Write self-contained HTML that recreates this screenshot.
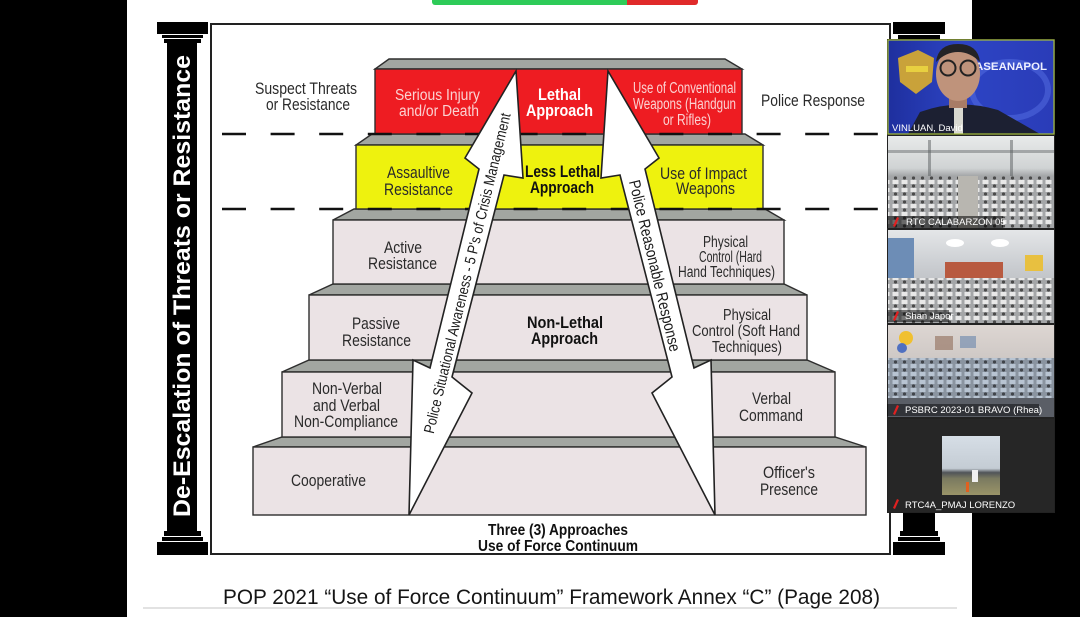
<!DOCTYPE html>
<html><head><meta charset="utf-8"><style>
html,body{margin:0;padding:0;background:#fff;}
body{width:1080px;height:617px;overflow:hidden;}
svg{display:block;}
.r{font-family:"Liberation Sans",Arial,sans-serif;font-size:17px;fill:#2a2a2a;}
.rs{font-family:"Liberation Sans",Arial,sans-serif;font-size:15.5px;fill:#2a2a2a;}
.rp{font-family:"Liberation Sans",Arial,sans-serif;font-size:15.5px;fill:#fbd2d2;}
.b{font-family:"Liberation Sans",Arial,sans-serif;font-size:17px;font-weight:bold;fill:#111;}
.bw{font-family:"Liberation Sans",Arial,sans-serif;font-size:17px;font-weight:bold;fill:#fff;}
.bb{font-family:"Liberation Sans",Arial,sans-serif;font-size:15.5px;font-weight:bold;fill:#111;}
.nm{font-family:"Liberation Sans",Arial,sans-serif;font-size:9.5px;fill:#fff;}
</style></head><body>
<svg width="1080" height="617" viewBox="0 0 1080 617" xmlns="http://www.w3.org/2000/svg">
<defs>
<clipPath id="c1"><rect x="888" y="40" width="166" height="94"/></clipPath>
<linearGradient id="g1" x1="0" y1="0" x2="1" y2="0">
<stop offset="0" stop-color="#1e2f9e"/><stop offset="0.45" stop-color="#2d44c4"/><stop offset="1" stop-color="#2a3cb8"/>
</linearGradient>
<linearGradient id="g2" x1="0" y1="0" x2="0" y2="1">
<stop offset="0" stop-color="#e8eaea"/><stop offset="0.35" stop-color="#d0d3d4"/><stop offset="0.45" stop-color="#9c9ea0"/><stop offset="1" stop-color="#8a8c90"/>
</linearGradient>
<linearGradient id="g3" x1="0" y1="0" x2="0" y2="1">
<stop offset="0" stop-color="#e4e6e8"/><stop offset="0.4" stop-color="#c9ccd0"/><stop offset="1" stop-color="#a8aaae"/>
</linearGradient>
<linearGradient id="g4" x1="0" y1="0" x2="0" y2="1">
<stop offset="0" stop-color="#ddd6d2"/><stop offset="0.35" stop-color="#cfc9c6"/><stop offset="0.5" stop-color="#8e98a6"/><stop offset="1" stop-color="#6e7682"/>
</linearGradient>
<linearGradient id="g5" x1="0" y1="0" x2="0" y2="1">
<stop offset="0" stop-color="#d6dee6"/><stop offset="0.55" stop-color="#c4ccd4"/><stop offset="0.62" stop-color="#505458"/><stop offset="0.72" stop-color="#7a7a60"/><stop offset="1" stop-color="#9a9468"/>
</linearGradient>
<pattern id="crowd" width="9" height="8" patternUnits="userSpaceOnUse">
<rect width="9" height="8" fill="#a4a6a8"/><circle cx="4.5" cy="2" r="1.6" fill="#4a4a4a"/><rect x="1.5" y="4" width="6" height="4" fill="#e8e8e8"/>
</pattern>
<pattern id="crowdb" width="9" height="8" patternUnits="userSpaceOnUse">
<rect width="9" height="8" fill="#8a94a0"/><circle cx="4.5" cy="2" r="1.6" fill="#40444a"/><rect x="1.5" y="4" width="6" height="4" fill="#b8c4d2"/>
</pattern>
</defs>

<rect width="1080" height="617" fill="#fff"/>
<rect x="0" y="0" width="127" height="617" fill="#000"/>
<rect x="972" y="0" width="108" height="617" fill="#000"/>

<!-- top toolbar -->
<rect x="432" y="-5" width="198" height="10" rx="3" fill="#2ecb58"/>
<rect x="627" y="-5" width="71" height="10" rx="3" fill="#e02a2a"/>
<rect x="627" y="-5" width="5" height="10" fill="#e02a2a"/>

<!-- bottom rule -->
<rect x="143" y="607" width="814" height="2" fill="#e2e2e2"/>

<!-- frame -->
<rect x="211" y="24" width="679" height="530" fill="#fff" stroke="#222" stroke-width="2"/>

<!-- left pillar -->
<g fill="#000">
<rect x="157" y="22" width="51" height="12"/>
<rect x="162" y="35" width="41" height="3"/>
<rect x="164" y="39" width="37" height="4"/>
<rect x="167" y="43" width="30" height="488"/>
<rect x="164" y="531" width="37" height="5"/>
<rect x="162" y="537" width="41" height="4"/>
<rect x="157" y="542" width="51" height="13"/>
</g>
<text transform="translate(190,517) rotate(-90)" x="0" y="0" textLength="462" lengthAdjust="spacingAndGlyphs" style="font-family:'Liberation Sans',Arial,sans-serif;font-size:24px;font-weight:bold;fill:#fff;">De-Escalation of Threats or Resistance</text>

<!-- right pillar -->
<g fill="#000">
<rect x="893" y="22" width="52" height="12"/>
<rect x="898" y="35" width="42" height="4"/>
<rect x="903" y="43" width="32" height="488"/>
<rect x="900" y="531" width="38" height="5"/>
<rect x="898" y="537" width="42" height="4"/>
<rect x="893" y="542" width="52" height="13"/>
</g>

<!-- steps -->
<g stroke="#2e2e2e" stroke-width="1.4" stroke-linejoin="miter">
<polygon points="282,437 835,437 866,447 253,447" fill="#a2a6a1"/>
<rect x="253" y="447" width="613" height="68" fill="#ebe3e5"/>
<polygon points="309,360 807,360 835,372 282,372" fill="#a2a6a1"/>
<rect x="282" y="372" width="553" height="65" fill="#ebe3e5"/>
<polygon points="333,284 784,284 807,295 309,295" fill="#a2a6a1"/>
<rect x="309" y="295" width="498" height="65" fill="#ebe3e5"/>
<polygon points="354,209 765,209 784,220 333,220" fill="#a2a6a1"/>
<rect x="333" y="220" width="451" height="64" fill="#ebe3e5"/>
<polygon points="372,134 745,134 763,145 356,145" fill="#a2a6a1"/>
<rect x="356" y="145" width="407" height="64" fill="#eef20e"/>
<polygon points="389,59 725,59 742,69 375,69" fill="#a2a6a1"/>
<rect x="375" y="69" width="367" height="65" fill="#ee1c22"/>
</g>

<!-- dashed lines -->
<line x1="222" y1="134" x2="880" y2="134" stroke="#111" stroke-width="2.6" stroke-dasharray="24 24.6"/>
<line x1="222" y1="209" x2="880" y2="209" stroke="#111" stroke-width="2.6" stroke-dasharray="24 24.6"/>

<!-- arrows -->
<polygon points="516,71 523,178 504,175 452,377 472,393 409,515 413,360 430,368 479,169 465,158" fill="#fff" stroke="#222" stroke-width="1.6" stroke-linejoin="miter"/>
<polygon points="608,71 601,178 620,175 672,377 652,393 715,515 711,360 694,368 645,169 659,158" fill="#fff" stroke="#222" stroke-width="1.6" stroke-linejoin="miter"/>

<text transform="translate(467.3,273.2) rotate(-76.45)" x="-164.5" y="5" textLength="329" lengthAdjust="spacingAndGlyphs" style="font-family:'Liberation Sans',Arial,sans-serif;font-size:15px;fill:#1a1a1a;">Police Situational Awareness - 5 P's of Crisis Management</text>
<text transform="translate(654.9,265.7) rotate(76.45)" x="-88" y="5.5" textLength="176" lengthAdjust="spacingAndGlyphs" style="font-family:'Liberation Sans',Arial,sans-serif;font-size:16px;fill:#1a1a1a;">Police Reasonable Response</text>

<!-- labels -->
<text class="r" x="255" y="94" textLength="102" lengthAdjust="spacingAndGlyphs">Suspect Threats</text>
<text class="r" x="266" y="110" textLength="84" lengthAdjust="spacingAndGlyphs">or Resistance</text>
<text class="r" x="761" y="106" textLength="104" lengthAdjust="spacingAndGlyphs">Police Response</text>

<text class="rp" x="395" y="100" textLength="85" lengthAdjust="spacingAndGlyphs">Serious Injury</text>
<text class="rp" x="399" y="116" textLength="80" lengthAdjust="spacingAndGlyphs">and/or Death</text>
<text class="rp" x="633" y="93" textLength="103" lengthAdjust="spacingAndGlyphs">Use of Conventional</text>
<text class="rp" x="633" y="109" textLength="103" lengthAdjust="spacingAndGlyphs">Weapons (Handgun</text>
<text class="rp" x="663" y="125" textLength="48" lengthAdjust="spacingAndGlyphs">or Rifles)</text>
<text class="bw" x="538" y="100" textLength="43" lengthAdjust="spacingAndGlyphs">Lethal</text>
<text class="bw" x="526" y="116" textLength="67" lengthAdjust="spacingAndGlyphs">Approach</text>

<text class="r" x="387" y="178" textLength="63" lengthAdjust="spacingAndGlyphs">Assaultive</text>
<text class="r" x="384" y="195" textLength="69" lengthAdjust="spacingAndGlyphs">Resistance</text>
<text class="b" x="525" y="177" textLength="75" lengthAdjust="spacingAndGlyphs">Less Lethal</text>
<text class="b" x="530" y="193" textLength="64" lengthAdjust="spacingAndGlyphs">Approach</text>
<text class="r" x="660" y="179" textLength="87" lengthAdjust="spacingAndGlyphs">Use of Impact</text>
<text class="r" x="676" y="194" textLength="59" lengthAdjust="spacingAndGlyphs">Weapons</text>

<text class="r" x="384" y="253" textLength="38" lengthAdjust="spacingAndGlyphs">Active</text>
<text class="r" x="368" y="269" textLength="69" lengthAdjust="spacingAndGlyphs">Resistance</text>
<text class="rs" x="703" y="247" textLength="45" lengthAdjust="spacingAndGlyphs">Physical</text>
<text class="rs" x="699" y="262" textLength="63" lengthAdjust="spacingAndGlyphs">Control (Hard</text>
<text class="rs" x="678" y="277" textLength="97" lengthAdjust="spacingAndGlyphs">Hand Techniques)</text>

<text class="r" x="352" y="329" textLength="48" lengthAdjust="spacingAndGlyphs">Passive</text>
<text class="r" x="342" y="346" textLength="69" lengthAdjust="spacingAndGlyphs">Resistance</text>
<text class="b" x="527" y="328" textLength="76" lengthAdjust="spacingAndGlyphs">Non-Lethal</text>
<text class="b" x="531" y="344" textLength="67" lengthAdjust="spacingAndGlyphs">Approach</text>
<text class="rs" x="723" y="320" textLength="48" lengthAdjust="spacingAndGlyphs">Physical</text>
<text class="rs" x="692" y="336" textLength="108" lengthAdjust="spacingAndGlyphs">Control (Soft Hand</text>
<text class="rs" x="712" y="352" textLength="70" lengthAdjust="spacingAndGlyphs">Techniques)</text>

<text class="r" x="312" y="394" textLength="70" lengthAdjust="spacingAndGlyphs">Non-Verbal</text>
<text class="r" x="313" y="411" textLength="67" lengthAdjust="spacingAndGlyphs">and Verbal</text>
<text class="r" x="294" y="427" textLength="104" lengthAdjust="spacingAndGlyphs">Non-Compliance</text>
<text class="r" x="752" y="404" textLength="39" lengthAdjust="spacingAndGlyphs">Verbal</text>
<text class="r" x="739" y="421" textLength="64" lengthAdjust="spacingAndGlyphs">Command</text>

<text class="r" x="291" y="486" textLength="75" lengthAdjust="spacingAndGlyphs">Cooperative</text>
<text class="r" x="763" y="478" textLength="52" lengthAdjust="spacingAndGlyphs">Officer's</text>
<text class="r" x="760" y="495" textLength="58" lengthAdjust="spacingAndGlyphs">Presence</text>

<text class="bb" x="488" y="535" textLength="140" lengthAdjust="spacingAndGlyphs">Three (3) Approaches</text>
<text class="bb" x="478" y="551" textLength="160" lengthAdjust="spacingAndGlyphs">Use of Force Continuum</text>

<text x="223" y="604" textLength="657" lengthAdjust="spacingAndGlyphs" style="font-family:'Liberation Sans',Arial,sans-serif;font-size:21px;fill:#151515;">POP 2021 “Use of Force Continuum” Framework Annex “C” (Page 208)</text>

<!-- video panel -->
<rect x="887" y="39" width="168" height="474" fill="#222"/>
<!-- tile 1 -->
<g clip-path="url(#c1)">
<rect x="888" y="40" width="166" height="94" fill="url(#g1)"/>
<ellipse cx="1010" cy="90" rx="38" ry="28" fill="none" stroke="#5570e4" stroke-width="6" opacity="0.5"/>
<path d="M898,58 L918,50 L934,58 L932,82 L916,94 L900,82 Z" fill="#c9a23a"/>
<rect x="906" y="66" width="22" height="6" fill="#e8d040"/>
<text x="975" y="70" textLength="72" lengthAdjust="spacingAndGlyphs" style="font-family:'Liberation Sans',Arial,sans-serif;font-size:11px;font-weight:bold;fill:#eef0ff;">ASEANAPOL</text>
<path d="M908,134 L920,112 Q958,98 998,110 L1040,134 Z" fill="#1c2032"/>
<rect x="949" y="94" width="18" height="14" fill="#a87c66"/>
<ellipse cx="958" cy="74" rx="22" ry="27" fill="#bf937b"/>
<path d="M936,62 Q938,44 958,44 Q978,44 980,62 Q970,52 958,52 Q946,52 936,62 Z" fill="#232326"/>
<circle cx="948" cy="68" r="7.5" fill="none" stroke="#222" stroke-width="2"/>
<circle cx="968" cy="68" r="7.5" fill="none" stroke="#222" stroke-width="2"/>
<rect x="954" y="108" width="9" height="26" fill="#d8d8d0"/>
<text class="nm" x="892" y="131">VINLUAN, David</text>
</g>
<rect x="888" y="40" width="166" height="94" fill="none" stroke="#a6bf3c" stroke-width="1.2"/>

<!-- tile 2 -->
<rect x="888" y="136" width="166" height="92" fill="url(#g2)"/>
<rect x="888" y="150" width="166" height="3" fill="#6a6e70" opacity="0.5"/>
<rect x="928" y="140" width="3" height="36" fill="#5a5e60" opacity="0.5"/>
<rect x="1010" y="140" width="3" height="36" fill="#5a5e60" opacity="0.5"/>
<rect x="888" y="176" width="70" height="52" fill="url(#crowd)"/>
<rect x="978" y="176" width="76" height="52" fill="url(#crowd)"/>
<rect x="958" y="176" width="20" height="52" fill="#b8b6b0"/>
<rect x="887" y="216" width="116" height="12" fill="#000" opacity="0.55"/>
<path d="M893,226 L897,217 L899,218 L895,227 Z" fill="#e02020"/>
<text class="nm" x="906" y="225">RTC CALABARZON 05</text>

<!-- tile 3 -->
<rect x="888" y="230" width="166" height="93" fill="url(#g3)"/>
<rect x="888" y="238" width="26" height="60" fill="#6d8db6"/>
<ellipse cx="955" cy="243" rx="9" ry="4" fill="#fff"/>
<ellipse cx="1000" cy="243" rx="9" ry="4" fill="#fff"/>
<rect x="945" y="262" width="58" height="16" fill="#b85a40"/>
<rect x="1025" y="255" width="18" height="16" fill="#e8c040"/>
<rect x="888" y="278" width="166" height="45" fill="url(#crowd)"/>
<rect x="887" y="310" width="62" height="12" fill="#000" opacity="0.5"/>
<path d="M893,320 L897,311 L899,312 L895,321 Z" fill="#e02020"/>
<text class="nm" x="905" y="319">Shan Japor</text>

<!-- tile 4 -->
<rect x="888" y="325" width="166" height="92" fill="url(#g4)"/>
<circle cx="906" cy="338" r="7" fill="#f0c030"/>
<circle cx="902" cy="348" r="5" fill="#5070c0"/>
<rect x="935" y="336" width="18" height="14" fill="#9a7a6a" opacity="0.7"/>
<rect x="960" y="336" width="16" height="12" fill="#7890b0" opacity="0.7"/>
<rect x="888" y="358" width="166" height="40" fill="url(#crowdb)"/>
<rect x="888" y="398" width="166" height="19" fill="#5a5e66"/>
<rect x="887" y="404" width="152" height="12" fill="#000" opacity="0.45"/>
<path d="M893,414 L897,405 L899,406 L895,415 Z" fill="#e02020"/>
<text class="nm" x="905" y="413">PSBRC 2023-01 BRAVO (Rhea)</text>

<!-- tile 5 -->
<rect x="888" y="419" width="166" height="93" fill="#262626"/>
<rect x="942" y="436" width="58" height="59" fill="url(#g5)"/>
<rect x="972" y="470" width="6" height="12" fill="#f0f0f0"/>
<rect x="966" y="482" width="3" height="10" fill="#e06020"/>
<path d="M893,508 L897,499 L899,500 L895,509 Z" fill="#e02020"/>
<text class="nm" x="905" y="508">RTC4A_PMAJ LORENZO</text>
</svg>
</body></html>
